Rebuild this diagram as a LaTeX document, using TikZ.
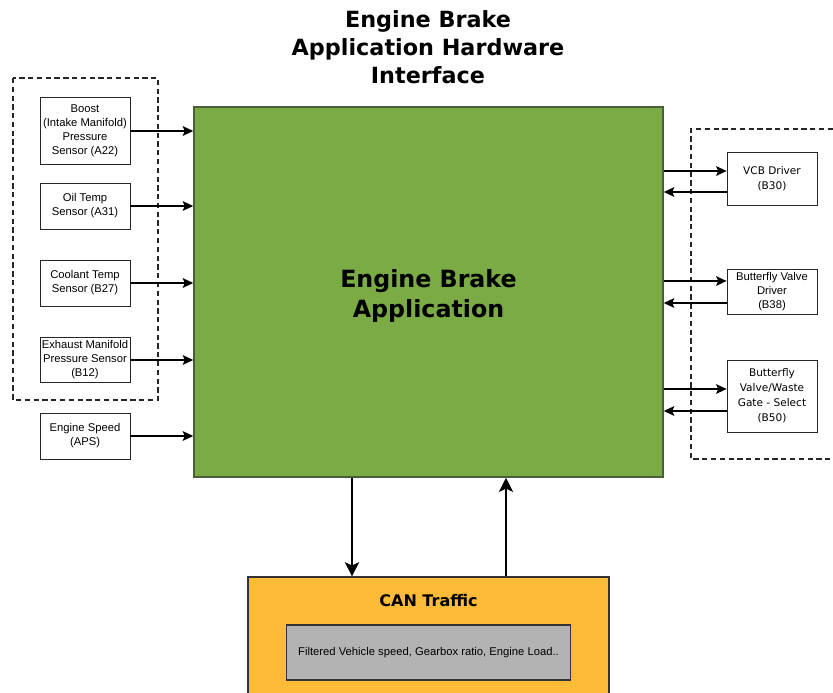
\documentclass[tikz,border=0pt]{standalone}
\usepackage{fontspec}
\setmainfont{Liberation Sans}
\newfontfamily\verdanafont{DejaVu Sans}
\usetikzlibrary{positioning, arrows.meta}
\usepackage{xcolor}
\definecolor{appgreen}{HTML}{7AAB45}
\definecolor{appedge}{HTML}{4A5E3A}
\definecolor{canorange}{HTML}{FDBB37}
\definecolor{cangray}{HTML}{B3B3B3}

\begin{document}
\begin{tikzpicture}[ x=0.02cm, y=-0.02cm, sensor/.style={ rectangle, draw=black!85, fill=white, align=center, minimum width=1.8cm, inner sep=1pt, font=\fontsize{6.4}{8}\selectfont }, driver/.style={ sensor, font=\verdanafont\fontsize{6.0}{8.6}\selectfont }, group/.style={ draw=black!85, dashed, dash pattern=on 3pt off 2pt, line width=0.85pt }, arrow/.style={ -{Stealth[length=6pt, width=5.5pt, inset=1.2pt]}, line width=1pt }, busarrow/.style={ -{Stealth[length=8pt, width=8pt, inset=1.8pt]}, line width=1.7pt } ]
\useasboundingbox (0,0) rectangle (833,693);

% --- Titolo ---
\node[font=\verdanafont\bfseries\fontsize{12.7}{15.9}\selectfont, align=center] (title) at (428,47.5) {Engine Brake\\Application Hardware\\Interface};

% --- Blocco applicazione ---
\node[rectangle, draw=appedge, line width=0.9pt, fill=appgreen, minimum width=9.38cm, minimum height=7.4cm] (ebapp) at (428.5,292) {};
\node[align=center, font=\verdanafont\bfseries\fontsize{13.5}{17}\selectfont] (applabel) at (428.5,296) {Engine Brake\\Application};

% --- Sensori ---
\node[sensor, minimum height=1.34cm] (boost) at (85,131) {Boost\\(Intake Manifold)\\Pressure\\Sensor (A22)};
\node[sensor, minimum height=0.92cm] (oiltemp) at (85,206) {Oil Temp\\Sensor (A31)};
\node[sensor, minimum height=0.92cm] (coolant) at (85,283) {Coolant Temp\\Sensor (B27)};
\node[sensor, minimum height=0.9cm] (exhaust) at (85,360) {Exhaust Manifold\\Pressure Sensor\\(B12)};
\node[sensor, minimum height=0.92cm] (speed) at (85,436) {Engine Speed\\(APS)};

% --- Attuatori ---
\node[driver, minimum height=1.06cm] (vcb) at (772,178.5) {VCB Driver\\(B30)};
\node[sensor, minimum height=0.9cm] (bvdriver) at (772,291.5) {Butterfly Valve\\Driver\\(B38)};
\node[driver, minimum height=1.44cm] (bvwaste) at (772,396) {Butterfly\\Valve/Waste\\Gate - Select\\(B50)};

% --- Gruppi ---
\draw[group] (13,78) rectangle (158,400);
\draw[group] (833,129) -- (691,129) -- (691,459) -- (833,459);

% --- CAN ---
\node[rectangle, draw=black!80, line width=0.7pt, fill=canorange, minimum width=7.22cm, minimum height=2.86cm] (can) at (428.5,648.5) {};
\node[font=\verdanafont\bfseries\fontsize{9.1}{11}\selectfont] (cantitle) at (428.5,601) {CAN Traffic};
\node[rectangle, draw=black!80, line width=0.7pt, fill=cangray, minimum width=5.68cm, minimum height=1.1cm, font=\fontsize{6.4}{7.9}\selectfont, below=0.22cm of cantitle] (cansignals) {Filtered Vehicle speed, Gearbox ratio, Engine Load..};

% --- Collegamenti ---
\foreach \s in {boost, oiltemp, coolant, exhaust, speed} \draw[arrow] (\s.east) -- (\s.east -| ebapp.west);

\draw[arrow] ([yshift=0.15cm]vcb.west -| ebapp.east) -- ([yshift=0.15cm]vcb.west); \draw[arrow] ([yshift=-0.27cm]vcb.west) -- ([yshift=-0.27cm]vcb.west -| ebapp.east);
\draw[arrow] ([yshift=0.21cm]bvdriver.west -| ebapp.east) -- ([yshift=0.21cm]bvdriver.west); \draw[arrow] ([yshift=-0.23cm]bvdriver.west) -- ([yshift=-0.23cm]bvdriver.west -| ebapp.east);
\draw[arrow] ([yshift=0.14cm]bvwaste.west -| ebapp.east) -- ([yshift=0.14cm]bvwaste.west); \draw[arrow] ([yshift=-0.30cm]bvwaste.west) -- ([yshift=-0.30cm]bvwaste.west -| ebapp.east);

\coordinate (busdown) at (352,0); \coordinate (busup) at (506,0);
\draw[busarrow] (ebapp.south -| busdown) -- (can.north -| busdown); \draw[busarrow] (can.north -| busup) -- (ebapp.south -| busup);
\end{tikzpicture}
\end{document}
